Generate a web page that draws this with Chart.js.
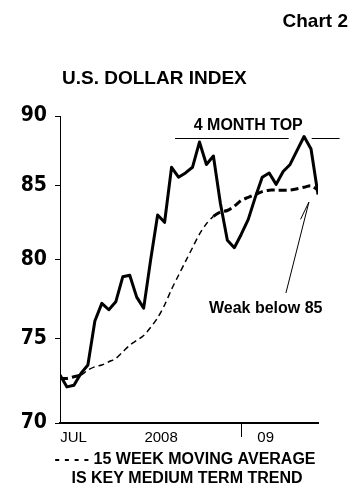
<!DOCTYPE html>
<html>
<head>
<meta charset="utf-8">
<script src="https://cdn.jsdelivr.net/npm/chart.js@4/dist/chart.umd.min.js"></script>
<style>
  html, body { margin: 0; padding: 0; background: #fff; }
  #wrap { width: 364px; height: 494px; }
</style>
</head>
<body>
<div id="wrap"><canvas id="usdChart" width="364" height="494"></canvas></div>
<script>
// weekly closes, Jul 2008 - Mar 2009 (week index 0..37)
const usdIndex = [72.8, 72.1, 72.2, 72.9, 73.4, 76.1, 77.2, 76.8, 77.3, 78.9,
                  79.0, 77.6, 76.9, 80.0, 83.0, 82.5, 86.3, 85.6, 85.9, 86.3,
                  88.1, 86.5, 87.1, 83.8, 81.3, 80.8, 81.7, 82.7, 84.2, 85.6,
                  85.9, 85.1, 86.0, 86.5, 87.5, 88.5, 87.6, 84.4];
const movingAvg15 = [72.6, 72.6, 72.7, 72.8, 73.1, 73.3, 73.4, 73.6, 73.8, 74.2,
                     74.6, 74.9, 75.2, 75.7, 76.3, 77.1, 78.1, 79.0, 79.9, 80.8,
                     81.7, 82.4, 82.9, 83.2, 83.3, 83.6, 84.0, 84.2, 84.4, 84.6,
                     84.7, 84.7, 84.7, 84.7, 84.8, 84.9, 85.0, 84.7];
const yTicks = [70, 75, 80, 85, 90];
const xTickPos = [1.94, 14.5, 26.1, 29.5];
const xTickLabels = ['JUL', '2008', '', '09'];

const BLACK = '#000';
const FONT = "'Liberation Sans', Arial, sans-serif";

// annotations in data units (week index, index value)
const topLevel = 88.4;
const topSpans = [[16.5, 32.8], [36.1, 40.1]];
const arrowFrom = [32.4, 77.86];
const arrowTo = [35.7, 83.88];
const arrowBarb = [34.5, 82.7];

const notes = {
  id: 'notes',
  afterDraw(chart) {
    const c = chart.ctx;
    const x = chart.scales.x, y = chart.scales.y;
    c.save();
    c.fillStyle = BLACK;
    c.strokeStyle = BLACK;

    c.font = 'bold 19px ' + FONT;
    c.textAlign = 'right';
    c.textBaseline = 'alphabetic';
    c.fillText('Chart 2', 348, 27);
    c.textAlign = 'left';
    c.fillText('U.S. DOLLAR INDEX', 62, 84);

    c.font = 'bold 16px ' + FONT;
    c.textAlign = 'center';
    c.fillText('- - - - 15 WEEK MOVING AVERAGE', 185, 464);
    c.fillText('IS KEY MEDIUM TERM TREND', 187, 483);

    // 4 month top
    c.lineWidth = 1;
    topSpans.forEach(s => {
      const py = Math.round(y.getPixelForValue(topLevel)) + 0.5;
      c.beginPath();
      c.moveTo(x.getPixelForValue(s[0]), py);
      c.lineTo(x.getPixelForValue(s[1]), py);
      c.stroke();
    });
    c.textBaseline = 'middle';
    c.fillText('4 MONTH TOP', x.getPixelForValue(27), y.getPixelForValue(89.3));

    // arrow to the moving average
    c.beginPath();
    c.moveTo(x.getPixelForValue(arrowFrom[0]), y.getPixelForValue(arrowFrom[1]));
    c.lineTo(x.getPixelForValue(arrowTo[0]), y.getPixelForValue(arrowTo[1]));
    c.lineTo(x.getPixelForValue(arrowBarb[0]), y.getPixelForValue(arrowBarb[1]));
    c.stroke();
    c.fillText('Weak below 85', x.getPixelForValue(29.5), y.getPixelForValue(76.9));
    c.restore();
  }
};

const thickMA = ctx => (ctx.p0DataIndex >= 22 || ctx.p1DataIndex <= 3);

new Chart(document.getElementById('usdChart'), {
  type: 'line',
  data: {
    datasets: [{
      label: 'U.S. Dollar Index',
      data: usdIndex.map((v, i) => ({ x: i, y: v })),
      borderColor: BLACK,
      borderWidth: 3,
      pointRadius: 0,
      tension: 0,
      borderJoinStyle: 'round'
    }, {
      label: '15 week moving average',
      data: movingAvg15.map((v, i) => ({ x: i, y: v })),
      borderColor: BLACK,
      borderWidth: 1.5,
      borderDash: [6, 4],
      pointRadius: 0,
      tension: 0.3,
      segment: {
        borderWidth: ctx => thickMA(ctx) ? 3 : 1.5,
        borderDash: ctx => thickMA(ctx) ? [8, 4] : [6, 4]
      }
    }]
  },
  options: {
    responsive: false,
    animation: false,
    devicePixelRatio: 1,
    layout: { padding: { top: 116, right: 46, bottom: 41, left: 0 } },
    plugins: { legend: { display: false }, tooltip: { enabled: false } },
    scales: {
      x: {
        type: 'linear',
        min: 0,
        max: 37,
        afterFit: s => { s.height = 30; },
        afterBuildTicks: s => { s.ticks = xTickPos.map(v => ({ value: v })); },
        border: { display: true, color: BLACK, width: 2 },
        grid: {
          drawOnChartArea: false,
          drawTicks: true,
          tickLength: 14,
          color: ctx => (ctx.tick && xTickLabels[ctx.index] === '') ? BLACK : 'rgba(0,0,0,0)',
          lineWidth: 1
        },
        ticks: {
          autoSkip: false,
          maxRotation: 0,
          padding: -8,
          color: BLACK,
          font: { family: FONT, size: 15, weight: 'normal' },
          callback: (v, i) => xTickLabels[i]
        }
      },
      y: {
        type: 'logarithmic',
        min: 70,
        max: 90,
        afterFit: s => { s.width = 60; },
        afterBuildTicks: s => { s.ticks = yTicks.map(v => ({ value: v })); },
        border: { display: true, color: BLACK, width: 1 },
        grid: { drawOnChartArea: false, drawTicks: true, tickLength: 5, color: BLACK },
        ticks: {
          padding: 8,
          color: BLACK,
          font: { family: "'Liberation Sans Narrow', 'DejaVu Sans Condensed', 'Arial Narrow', 'Liberation Sans'", size: 21, weight: 'bold' },
          callback: v => String(v)
        }
      }
    }
  },
  plugins: [notes]
});
</script>
</body>
</html>
